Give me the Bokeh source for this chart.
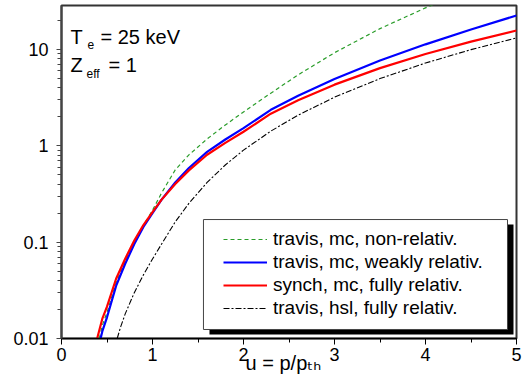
from bokeh.plotting import figure
from bokeh.models import (Label, BoxAnnotation, Legend, LegendItem, FixedTicker,
                          SingleIntervalTicker, Range1d, PrintfTickFormatter)
from bokeh.embed import file_html
from bokeh.resources import INLINE

# ---- data ----
x_green = [0.415, 0.45, 0.50, 0.60, 0.70, 0.80, 0.90, 1.00, 1.10, 1.25, 1.40, 1.60, 1.80, 2.00, 2.30, 2.60, 3.00, 3.50, 4.00, 4.50]
y_green = [0.0100, 0.0138, 0.0186, 0.0380, 0.0631, 0.0989, 0.148, 0.214, 0.324, 0.562, 0.804, 1.175, 1.641, 2.239, 3.508, 5.433, 9.226, 16.41, 26.92, 41.69]

x_blue = [0.43, 0.45, 0.50, 0.60, 0.70, 0.80, 0.90, 1.00, 1.10, 1.25, 1.40, 1.60, 1.80, 2.00, 2.30, 2.60, 3.00, 3.50, 4.00, 4.50, 5.00]
y_blue = [0.0100, 0.0120, 0.0166, 0.0351, 0.0596, 0.0955, 0.1435, 0.1995, 0.2761, 0.415, 0.5875, 0.863, 1.161, 1.521, 2.358, 3.292, 4.92, 7.674, 11.27, 16.07, 22.44]

x_red = [0.392, 0.45, 0.50, 0.60, 0.70, 0.80, 0.90, 1.00, 1.10, 1.25, 1.40, 1.60, 1.80, 2.00, 2.30, 2.60, 3.00, 3.50, 4.00, 4.50, 5.00]
y_red = [0.0100, 0.0162, 0.0214, 0.0417, 0.0673, 0.1038, 0.1503, 0.2042, 0.2761, 0.4009, 0.5546, 0.8054, 1.072, 1.396, 2.150, 2.968, 4.303, 6.388, 8.960, 12.04, 15.67]

x_black = [0.612, 0.65, 0.70, 0.80, 0.90, 1.00, 1.10, 1.25, 1.40, 1.60, 1.80, 2.00, 2.30, 2.60, 3.00, 3.50, 4.00, 4.50, 5.00]
y_black = [0.0100, 0.0132, 0.0180, 0.0299, 0.0457, 0.0668, 0.0955, 0.1622, 0.2523, 0.4159, 0.6310, 0.9007, 1.417, 2.076, 3.186, 4.971, 7.212, 9.927, 13.14]

series_labels = ["travis, mc, non-relativ.", "travis, mc, weakly relativ.",
                 "synch, mc, fully relativ.", "travis, hsl, fully relativ."]

x_ticks_interval = 1
y_ticks = [0.01, 0.1, 1, 10]
y_tick_labels = ["0.01", "0.1", "1", "10"]

FONT = "Liberation Sans"

p = figure(width=522, height=383, y_axis_type="log",
           x_range=Range1d(0, 5), y_range=Range1d(0.01, 28.5),
           output_backend="svg", toolbar_location=None,
           min_border_left=61, min_border_right=6, min_border_top=5, min_border_bottom=45)
p.xgrid.visible = False
p.ygrid.visible = False
p.background_fill_color = "white"
p.border_fill_color = "white"
p.outline_line_color = "#333333"
p.outline_line_width = 2

# axes
p.xaxis.ticker = SingleIntervalTicker(interval=x_ticks_interval, num_minor_ticks=2)
minors = [m * 10.0 ** e for e in range(-2, 2) for m in range(2, 10)]
p.yaxis.ticker = FixedTicker(ticks=y_ticks, minor_ticks=minors)
p.yaxis.formatter = PrintfTickFormatter(format="%g")
p.yaxis.major_label_overrides = {t: s for t, s in zip(y_ticks, y_tick_labels)}

for ax in (p.xaxis, p.yaxis):
    ax.major_label_text_font = FONT
    ax.major_label_text_font_size = "18px"
    ax.major_label_text_color = "black"
    ax.major_tick_in = 0
    ax.minor_tick_in = 0
    ax.minor_tick_out = 4

p.xaxis.axis_line_color = "black"
p.xaxis.axis_line_width = 1.5
p.xaxis.major_tick_line_color = "black"
p.xaxis.minor_tick_line_color = "black"
p.xaxis.major_tick_out = 6
p.xaxis.major_label_standoff = 3
p.xaxis.axis_label = "u = p/p\u209c\u2095\u00a0\u00a0"
p.xaxis.axis_label_text_font = "Liberation Sans, DejaVu Sans"
p.xaxis.axis_label_text_font_size = "20px"
p.xaxis.axis_label_text_font_style = "normal"
p.xaxis.axis_label_text_color = "black"
p.xaxis.axis_label_standoff = -12

p.yaxis.axis_line_color = "#444444"
p.yaxis.axis_line_width = 2
p.yaxis.major_tick_line_color = "#444444"
p.yaxis.minor_tick_line_color = "#444444"
p.yaxis.major_tick_out = 5
p.yaxis.major_label_standoff = 8

# curves
r_green = p.line(x_green, y_green, line_color="#2a9d2a", line_width=1.2, line_dash="4 3")
r_blue = p.line(x_blue, y_blue, line_color="#0000ff", line_width=2.2)
r_red = p.line(x_red, y_red, line_color="#ff0000", line_width=2.2)
r_black = p.line(x_black, y_black, line_color="black", line_width=1.1, line_dash="6 2 2 2")

# legend box with shadow
shadow = BoxAnnotation(left=1.626, right=4.967, top=0.1523, bottom=0.0110,
                       fill_color="black", fill_alpha=1, line_alpha=0)
box = BoxAnnotation(left=1.560, right=4.901, top=0.1715, bottom=0.0124,
                    fill_color="white", fill_alpha=1, line_color="#444444", line_alpha=1, line_width=1)
p.add_layout(shadow)
p.add_layout(box)

legend = Legend(items=[LegendItem(label=l, renderers=[r]) for l, r in
                       zip(series_labels, [r_green, r_blue, r_red, r_black])],
                location=(153, 10), padding=9, spacing=1,
                label_height=22, glyph_height=22, glyph_width=44, label_standoff=6,
                label_text_font=FONT, label_text_font_size="19px", label_text_color="black",
                background_fill_alpha=0, border_line_alpha=0, margin=0)
p.add_layout(legend)

# annotations
def lab(x, y, text, size):
    p.add_layout(Label(x=x, y=y, text=text, text_font=FONT, text_font_size=size,
                       text_baseline="alphabetic", text_color="black"))

lab(0.099, 13.58, "T", "20px")
lab(0.286, 11.21, "e", "12px")
lab(0.4286, 13.58, "= 25 keV", "20px")
lab(0.099, 6.955, "Z", "20px")
lab(0.275, 5.61, "eff", "12px")
lab(0.516, 6.955, "= 1", "20px")

open("out.html", "w").write(file_html(p, INLINE))
